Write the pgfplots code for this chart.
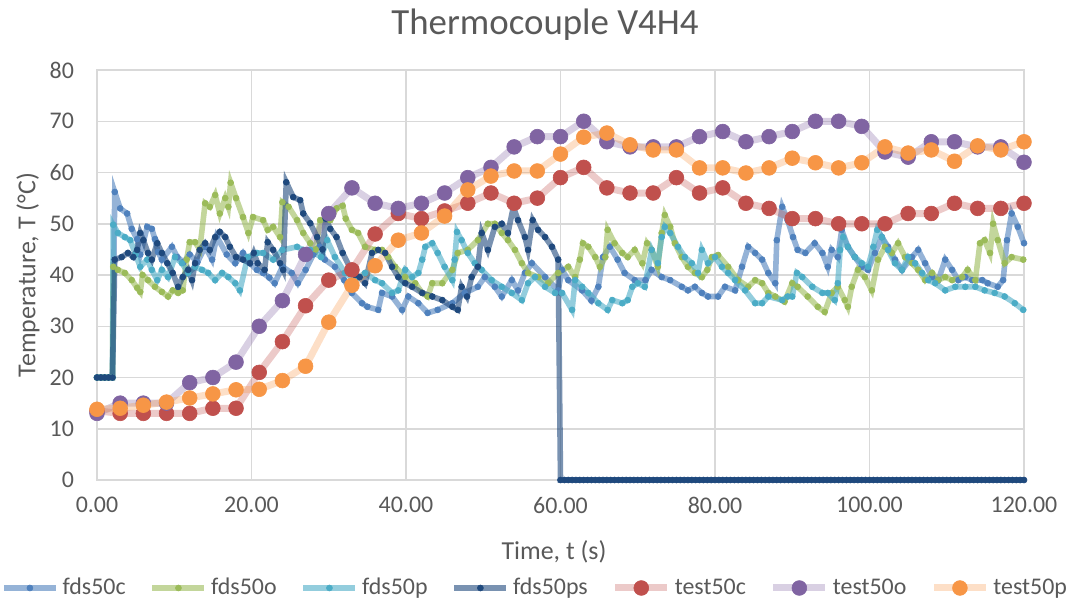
\documentclass[border=0pt]{standalone}
\usepackage{fontspec}
\setmainfont{Carlito}
\usepackage{pgfplots}
\pgfplotsset{compat=1.18}
\definecolor{cA}{HTML}{4F81BD}
\definecolor{cB}{HTML}{9BBB59}
\definecolor{cC}{HTML}{4BACC6}
\definecolor{cD}{HTML}{1F497D}
\definecolor{cE}{HTML}{C0504D}
\definecolor{cF}{HTML}{8064A2}
\definecolor{cG}{HTML}{F79646}
\definecolor{txt}{HTML}{595959}
\definecolor{grd}{HTML}{D9D9D9}
\pgfplotsset{
 fds/.style={draw=#1, draw opacity=0.6, line width=2.8bp, mark=*, mark size=1.5bp,
   mark options={line width=0.3bp, draw=#1, fill=#1, opacity=1, draw opacity=1, fill opacity=1}},
 tst/.style={draw=#1, draw opacity=0.3, line width=3.5bp, mark=*, mark size=3.7bp,
   mark options={line width=0.3bp, draw=#1, fill=#1, opacity=1, draw opacity=1, fill opacity=1}},
}
\begin{document}
\begin{tikzpicture}
\begin{axis}[
 at={(0,0)}, anchor=south west,
 scale only axis, width=463.5bp, height=205bp,
 xmin=0, xmax=120, ymin=0, ymax=80,
 xtick={0,20,40,60,80,100,120},
 xticklabels={0.00,20.00,40.00,60.00,80.00,100.00,120.00},
 ytick={0,10,20,30,40,50,60,70,80},
 yticklabels={0,10,20,30,40,50,60,70,80},
 grid=major, major grid style={draw=grd, line width=0.75bp},
 axis line style={draw=grd, line width=0.75bp},
 major tick length=0pt,
 tick label style={font=\fontsize{12}{14}\selectfont, text=txt},
 xticklabel style={yshift=-5bp},
 yticklabel style={xshift=-8bp},
 xlabel={Time, t (s)}, ylabel={Temperature, T (°C)},
 every axis x label/.style={at={(axis description cs:0.493,-0.1756)}, anchor=center, font=\fontsize{13}{15}\selectfont, text=txt},
 every axis y label/.style={at={(axis description cs:-0.0744,0.5)}, anchor=center, rotate=90, font=\fontsize{13}{15}\selectfont, text=txt},
 clip=false,
 legend columns=7,
 legend cell align=left,
 legend image code/.code={\draw[mark repeat=2,mark phase=2] plot coordinates {(0bp,0bp) (13bp,0bp) (26bp,0bp)};},
 legend style={draw=none, fill=none, font=\fontsize{12}{14}\selectfont, text=txt,
   at={(0.4736,-0.2634)}, anchor=center,
   /tikz/every even column/.append style={column sep=10bp}},
]
% fds50c
\addplot[fds=cA] coordinates {
(0,20)(0.5,20)(1,20)(1.5,20)(2,20)(2.3,56.2)(3,53)(3.9,52)(4.5,49)(5.2,47)(5.6,44)(6.5,49.4)(7.1,49)(7.5,47)(7.9,44.5)(8.4,43)(9.7,45.5)(10.4,43.5)(11.2,42.5)(12,44)(13,42.5)(14,45.5)(14.9,43)(15.5,47.5)(16.8,44)(17.9,42.3)(18.9,44.3)(19.8,42.3)(20.7,41)(21.5,40.4)(22.3,39.5)(23,38.4)(24,41.6)(25.2,40.4)(26,38.4)(27,41)(28,44)(28.8,45.5)(29.5,43)(30.8,41.6)(32,39)(33,36.5)(34.3,34.5)(35,33.8)(36.4,33.2)(36.9,36.5)(38.2,35.8)(39.5,33.2)(40.3,35.8)(41.6,34.5)(42.8,32.6)(44.1,33.2)(46,34.5)(47.6,36.5)(49.3,37.7)(50.2,39.6)(51.5,37.7)(52.4,35.8)(53.7,39)(54.5,37)(55.4,40.4)(56.3,42.3)(58,39.6)(59.7,37)(60.2,41)(61,39)(62.8,37)(64,35)(64.9,37.7)(65.5,43.5)(66.4,45.5)(67.4,43)(68.3,40.4)(69.6,39)(71,39)(71.8,41)(73.1,39.6)(74.2,39)(75.7,37.7)(76.5,37)(77.4,37.7)(78.3,36.5)(79.1,35.8)(80.4,35.8)(81.3,37.7)(82.6,37)(83.5,41.6)(84.3,45.5)(85.2,44.3)(86.1,43)(86.9,40.4)(87.8,38.4)(88,46.8)(88.7,53.3)(89.4,50.7)(90.1,47.4)(90.7,44.9)(91.7,44.3)(92.9,46.2)(93.9,44.3)(94.6,41.6)(95.1,44.9)(95.9,43.5)(96.4,48.8)(97.2,45.5)(98.1,43.5)(99,41.6)(99.8,41)(100.7,44.3)(101.6,47.4)(102.4,45.5)(103.3,43)(104.2,41)(105.5,43.5)(106.3,44.9)(107.2,42.3)(108.1,39.6)(108.9,39)(109.8,43)(110.7,41)(111.5,39)(112.4,39.6)(113.3,39)(114.6,39)(115.3,38.4)(116.6,37.7)(117.3,39)(117.8,46.8)(118.4,52)(119.2,49.4)(120,46.2)
};
\addlegendentry{fds50c}
% fds50o
\addplot[fds=cB] coordinates {
(0,20)(0.5,20)(1,20)(1.5,20)(2,20)(2.1,41.6)(2.7,41)(3.6,40.4)(4.5,39)(5.2,37.5)(5.6,36.7)(5.9,40)(6.6,39)(7.5,37.7)(8.4,36.7)(9.2,35.8)(9.8,37)(10.5,36.5)(11.1,37)(11.6,43)(12,46.4)(12.7,46.4)(13.3,45)(14,54)(14.6,53.3)(15.3,55.6)(15.9,52)(16.6,55)(17,53.3)(17.3,58)(18,55)(18.9,51.3)(19.6,48.2)(20.2,51.3)(21.5,50.7)(22.1,48.8)(22.8,49.4)(23.7,47.4)(24,54.2)(24.8,53.3)(25.9,50.7)(26.7,48.2)(27.6,46.2)(28.3,45)(28.9,50.7)(30.2,50.7)(31,53)(31.8,53.5)(32.2,51)(33,48.8)(33.8,48.2)(34.7,45.5)(36,44.9)(36.9,44.9)(37.7,43.5)(38.6,41.6)(39.9,39.6)(41.2,38.4)(42.1,36.5)(42.8,35.8)(43.4,38.4)(44.7,38.4)(46,41)(46.7,44.3)(48,44.9)(49.3,46.8)(50.6,50)(51.5,50)(52.4,48.2)(53.2,46.8)(54.1,44.9)(55,42.3)(55.8,40.4)(57.1,39.6)(58.4,38.4)(59.7,40.4)(61,41.6)(61.9,39.6)(62.5,43)(62.9,46.2)(63.6,45.5)(64.5,43.5)(65.1,41.6)(65.8,43.5)(66.1,48.8)(67,46.2)(68,44.3)(68.7,43.5)(69.6,44.9)(70.6,42.3)(71.2,46.2)(71.8,44.9)(72.6,41.6)(73.1,48.2)(73.5,51.7)(74.2,49.4)(74.8,46.2)(75.7,43.5)(76.5,41.6)(77.4,40.4)(78.3,39.6)(79,41)(79.6,43.5)(80.4,43.9)(81.7,41.6)(83,39)(84.3,37.7)(85.2,39)(86.1,38.4)(86.9,36.5)(87.8,35.8)(89,34.8)(90,38.4)(90.7,37.7)(92,35.8)(93.3,33.8)(94.2,32.8)(95.1,36.5)(95.9,37.7)(96.8,35.1)(97.2,33.8)(97.7,37.7)(98.5,41)(99.4,39.6)(100.3,37)(101.1,43)(102,45.5)(102.9,44.3)(103.7,46.2)(104.6,43.5)(105.5,42.3)(106.3,41)(107.2,39)(108.1,40.4)(108.9,39)(109.8,39.6)(110.7,39)(112,39.6)(112.7,41)(113.7,39)(114.3,46.2)(114.9,46.8)(115.6,44.3)(116,50)(116.6,46.8)(117.5,42.3)(118.4,43.5)(119.9,43)
};
\addlegendentry{fds50o}
% fds50p
\addplot[fds=cC] coordinates {
(0,20)(0.5,20)(1,20)(1.5,20)(2,20)(2.1,49.8)(2.7,48.2)(3.6,47.4)(4.3,46.8)(5,44)(5.6,41.6)(6.5,43)(7.1,41)(7.8,39)(8.4,41)(9.2,39.6)(10.1,43.5)(11,42.3)(11.8,40.4)(12.7,41.6)(13.6,41)(14.4,40.4)(15.3,39)(16.2,40.4)(17,39.6)(17.9,38.4)(18.5,37)(19.5,43.5)(20.7,44.3)(21.5,44.3)(22.8,43)(24,44.9)(25.9,45.5)(26.7,44.9)(27.6,44.9)(29,43.5)(29.8,46.8)(30.8,43.5)(32.1,40.4)(33.4,39)(34.7,40.4)(36,39)(36.9,38.4)(38.2,36.5)(39,37)(39.9,41)(40.8,39.6)(41.6,40.4)(42.1,43)(42.5,45.5)(43.4,46.2)(44.1,44.3)(45,41.6)(46,39)(46.3,43)(46.6,48.4)(47.2,46.8)(48,44.3)(48.9,42.3)(49.8,41)(51.1,39)(52.4,37.7)(53.7,36.5)(55,35.1)(55.8,38.4)(56.7,39.6)(58,37.7)(59.3,36.5)(60.2,36.5)(61.5,33.2)(61.9,39)(62.8,37.7)(63.6,36.5)(64.9,34.5)(66.1,33.2)(66.7,35.1)(68,34.5)(68.7,35.1)(69.3,37.7)(70,38.4)(70.9,37.7)(71.8,44.9)(72.6,42.3)(73.1,47.4)(73.5,49.4)(74.2,48.2)(75.2,45.5)(76.1,43.5)(77,42.3)(77.8,40.4)(78.3,44.9)(79.1,42.3)(80,43.5)(80.9,41.6)(81.7,40.4)(82.6,39)(83.9,37)(85.2,34.5)(86.1,34.5)(86.9,35.8)(88.7,35.1)(89.4,35.8)(90,35.8)(90.6,40.4)(91.3,39.6)(92.6,37.7)(93.9,36.5)(94.6,36.5)(95.5,35.1)(95.9,38.4)(96.2,44.9)(96.6,47.4)(97.2,45.5)(98.1,43.5)(99,42.3)(99.8,41.6)(100.5,45.5)(101,48.8)(101.6,47.4)(102.4,44.9)(103.3,42.3)(104.2,41)(105,43.5)(105.9,42.3)(106.8,40.4)(107.6,39)(108.5,38.4)(109.8,37)(111.1,37.7)(112.4,37.7)(113.7,37.7)(114.9,37)(116.2,36.5)(117.5,35.8)(118.8,34.5)(119.9,33.2)
};
\addlegendentry{fds50p}
% fds50ps
\addplot[fds=cD] coordinates {
(0,20)(0.5,20)(1,20)(1.5,20)(2,20)(2.3,43)(3.2,43.5)(4,44.3)(4.7,43.5)(5.2,44.9)(5.6,48.2)(6,46.8)(6.6,44.3)(7.1,43)(7.8,46.2)(8.4,44.3)(9.1,42.3)(9.8,40.4)(10.5,37.7)(11.1,39.6)(11.8,41)(12.3,39)(12.7,42.3)(13.3,44.9)(14,46.2)(14.6,44.9)(15.3,47.4)(15.9,48.4)(16.6,47.4)(17.2,45.5)(18,43.5)(18.9,43)(19.8,42.3)(20.3,44.3)(20.8,42.3)(21.7,41)(22.1,46.4)(22.8,44.9)(23.7,42.3)(24.1,41)(24.5,58.1)(25.4,55.2)(26.3,54.6)(26.7,52)(27.6,50.1)(28.5,47.4)(29.2,45)(29.6,51)(30.2,49)(31,47.4)(31.8,44.3)(32.7,41.6)(33.4,40)(34,39.6)(34.7,38.4)(35.6,44.3)(36.4,44.9)(37.3,44.3)(38.2,41.6)(39,39.6)(39.9,38.4)(40.8,37.7)(42.1,36.5)(43.4,35.8)(44.7,35.1)(46,33.8)(46.7,33.2)(47.2,37.7)(47.9,35.8)(48.5,39.6)(49.3,41.6)(49.8,48.2)(50.6,44.9)(51.5,49.4)(52.4,50)(53.2,48.2)(53.9,53.3)(54.5,50.7)(55.4,47.4)(55.8,44.9)(56.4,50.7)(57.1,48.8)(58,47.4)(58.9,45.5)(59.7,43)
(60,0)(60.5,0)(61,0)(61.5,0)(62,0)(62.5,0)(63,0)(63.5,0)(64,0)(64.5,0)(65,0)(65.5,0)(66,0)(66.5,0)(67,0)(67.5,0)(68,0)(68.5,0)(69,0)(69.5,0)(70,0)(70.5,0)(71,0)(71.5,0)(72,0)(72.5,0)(73,0)(73.5,0)(74,0)(74.5,0)(75,0)(75.5,0)(76,0)(76.5,0)(77,0)(77.5,0)(78,0)(78.5,0)(79,0)(79.5,0)(80,0)(80.5,0)(81,0)(81.5,0)(82,0)(82.5,0)(83,0)(83.5,0)(84,0)(84.5,0)(85,0)(85.5,0)(86,0)(86.5,0)(87,0)(87.5,0)(88,0)(88.5,0)(89,0)(89.5,0)(90,0)(90.5,0)(91,0)(91.5,0)(92,0)(92.5,0)(93,0)(93.5,0)(94,0)(94.5,0)(95,0)(95.5,0)(96,0)(96.5,0)(97,0)(97.5,0)(98,0)(98.5,0)(99,0)(99.5,0)(100,0)(100.5,0)(101,0)(101.5,0)(102,0)(102.5,0)(103,0)(103.5,0)(104,0)(104.5,0)(105,0)(105.5,0)(106,0)(106.5,0)(107,0)(107.5,0)(108,0)(108.5,0)(109,0)(109.5,0)(110,0)(110.5,0)(111,0)(111.5,0)(112,0)(112.5,0)(113,0)(113.5,0)(114,0)(114.5,0)(115,0)(115.5,0)(116,0)(116.5,0)(117,0)(117.5,0)(118,0)(118.5,0)(119,0)(119.5,0)(120,0)
};
\addlegendentry{fds50ps}
% test50c
\addplot[tst=cE] coordinates {
(0,13.5)(3,13)(6,13)(9,13)(12,13)(15,14)(18,14)(21,21)(24,27)(27,34)(30,39)(33,41)(36,48)(39,52)(42,51)(45,52.5)(48,54)(51,56)(54,54)(57,55)(60,59)(63,61)(66,57)(69,56)(72,56)(75,59)(78,56)(81,57)(84,54)(87,53)(90,51)(93,51)(96,50)(99,50)(102,50)(105,52)(108,52)(111,54)(114,53)(117,53)(120,54)
};
\addlegendentry{test50c}
% test50o
\addplot[tst=cF] coordinates {
(0,13)(3,15)(6,15)(9,15)(12,19)(15,20)(18,23)(21,30)(24,35)(27,44)(30,52)(33,57)(36,54)(39,53)(42,54)(45,56)(48,59)(51,61)(54,65)(57,67)(60,67)(63,70)(66,66)(69,65)(72,65)(75,65)(78,67)(81,68)(84,66)(87,67)(90,68)(93,70)(96,70)(99,69)(102,64)(105,63)(108,66)(111,66)(114,65)(117,65)(120,62)
};
\addlegendentry{test50o}
% test50p
\addplot[tst=cG] coordinates {
(0,13.8)(3,14)(6,14.6)(9,15.2)(12,16)(15,16.8)(18,17.6)(21,17.7)(24,19.4)(27,22.2)(30,30.8)(33,38)(36,41.8)(39,46.8)(42,48.2)(45,51.5)(48,56.6)(51,59.3)(54,60.3)(57,60.3)(60,63.6)(63,66.9)(66,67.7)(69,65.4)(72,64.4)(75,64.4)(78,60.9)(81,60.9)(84,59.9)(87,60.9)(90,62.8)(93,61.9)(96,60.9)(99,61.9)(102,65)(105,63.8)(108,64.4)(111,62.2)(114,65.2)(117,64.4)(120,66)
};
\addlegendentry{test50p}
\end{axis}
\node[font=\fontsize{18.5}{22}\selectfont, text=txt] at (224bp,227.5bp) {Thermocouple V4H4};
\pgfresetboundingbox
\path[use as bounding box] (-48.5bp,-62.5bp) rectangle (488bp,240bp);
\end{tikzpicture}
\end{document}
